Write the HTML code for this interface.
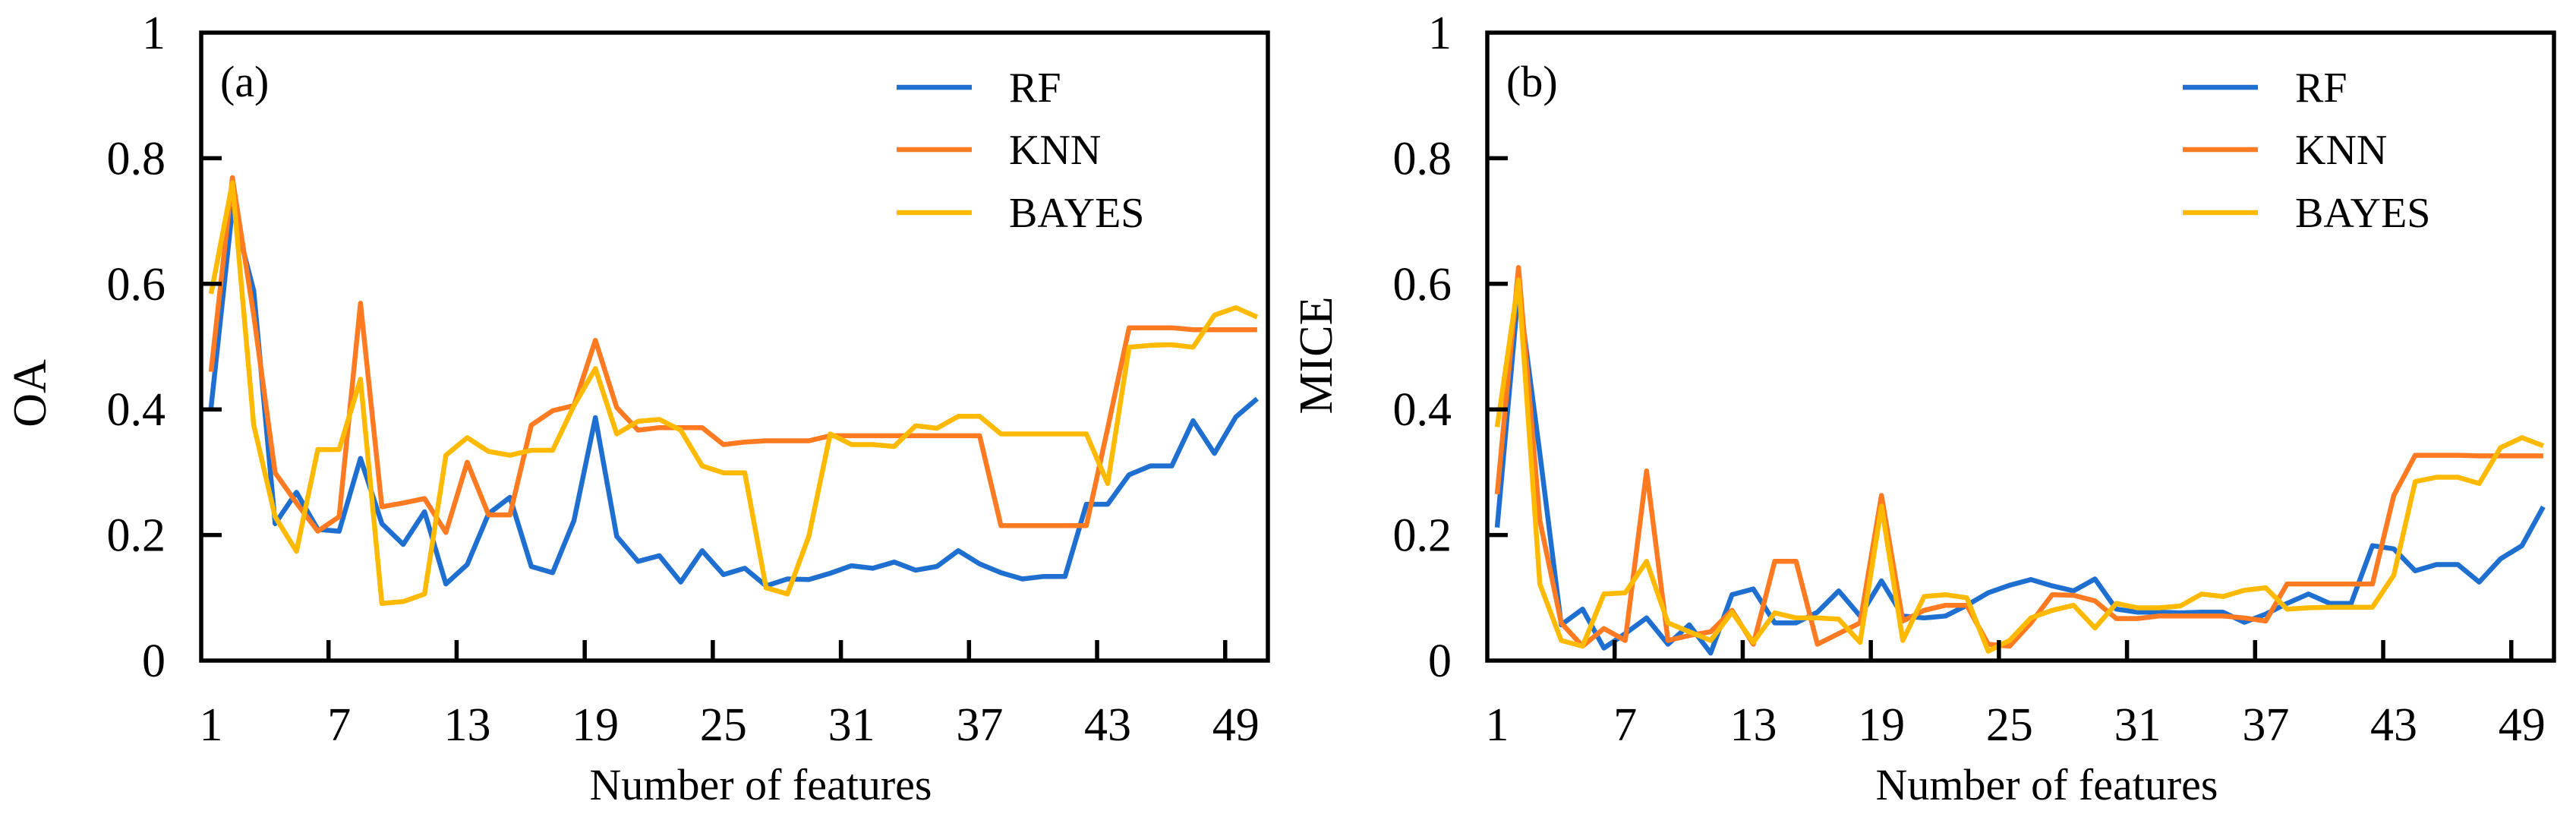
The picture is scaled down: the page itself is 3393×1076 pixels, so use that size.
<!DOCTYPE html>
<html><head><meta charset="utf-8">
<style>
html,body{margin:0;padding:0;background:#fff;}
svg{display:block;font-family:"Liberation Serif",serif;}
</style></head>
<body>
<svg id="chart" width="3393" height="1076" viewBox="0 0 3393 1076" xmlns="http://www.w3.org/2000/svg"></svg>
<script>
const features = Array.from({length:50},(_,i)=>i+1);
const xTickLabels = [1,7,13,19,25,31,37,43,49];
const yTickLabels = [0,0.2,0.4,0.6,0.8,1];
const seriesNames = ["RF","KNN","BAYES"];
const oaRF = [0.403,0.72,0.589,0.218,0.268,0.209,0.206,0.322,0.218,0.185,0.237,0.122,0.153,0.234,0.26,0.15,0.14,0.223,0.387,0.198,0.158,0.167,0.125,0.175,0.137,0.147,0.119,0.13,0.129,0.139,0.151,0.147,0.157,0.144,0.15,0.175,0.154,0.14,0.13,0.134,0.134,0.249,0.249,0.296,0.31,0.31,0.382,0.33,0.388,0.417];
const oaKNN = [0.46,0.769,0.55,0.299,0.251,0.206,0.229,0.569,0.245,0.251,0.258,0.204,0.316,0.232,0.232,0.375,0.398,0.406,0.51,0.403,0.367,0.371,0.371,0.371,0.344,0.348,0.35,0.35,0.35,0.358,0.358,0.358,0.358,0.358,0.358,0.358,0.358,0.215,0.215,0.215,0.215,0.215,0.37,0.53,0.53,0.53,0.527,0.527,0.527,0.527];
const oaBAYES = [0.584,0.761,0.375,0.229,0.174,0.336,0.336,0.448,0.091,0.094,0.106,0.327,0.355,0.333,0.327,0.335,0.335,0.406,0.465,0.361,0.381,0.384,0.367,0.31,0.299,0.299,0.116,0.106,0.198,0.361,0.344,0.344,0.341,0.374,0.37,0.389,0.389,0.361,0.361,0.361,0.361,0.361,0.282,0.499,0.502,0.503,0.499,0.55,0.562,0.547];
const miceRF = [0.212,0.59,0.33,0.057,0.082,0.02,0.043,0.068,0.026,0.057,0.012,0.105,0.114,0.06,0.06,0.077,0.111,0.071,0.127,0.071,0.068,0.071,0.088,0.108,0.12,0.129,0.119,0.111,0.13,0.082,0.077,0.077,0.076,0.077,0.077,0.061,0.074,0.091,0.106,0.091,0.091,0.183,0.178,0.143,0.153,0.153,0.125,0.162,0.183,0.245];
const miceKNN = [0.265,0.626,0.223,0.06,0.023,0.051,0.032,0.302,0.032,0.04,0.046,0.08,0.026,0.158,0.158,0.026,0.043,0.06,0.263,0.063,0.08,0.088,0.088,0.026,0.023,0.06,0.105,0.104,0.095,0.067,0.067,0.071,0.071,0.071,0.071,0.068,0.063,0.122,0.122,0.122,0.122,0.122,0.263,0.327,0.327,0.327,0.326,0.326,0.326,0.326];
const miceBAYES = [0.372,0.606,0.122,0.032,0.023,0.106,0.108,0.158,0.06,0.046,0.032,0.077,0.029,0.076,0.068,0.068,0.066,0.029,0.246,0.032,0.102,0.105,0.1,0.015,0.032,0.068,0.08,0.088,0.052,0.091,0.084,0.084,0.087,0.106,0.102,0.112,0.116,0.082,0.084,0.085,0.085,0.085,0.136,0.285,0.292,0.292,0.282,0.339,0.355,0.342];

const colors = ["#1f6fd1","#ff7a21","#ffba00"];
const NS = "http://www.w3.org/2000/svg";
const svg = document.getElementById("chart");
function mk(tag, attrs, parent){const e=document.createElementNS(NS,tag);for(const k in attrs)e.setAttribute(k,attrs[k]);(parent||svg).appendChild(e);return e;}

function panel(off, label, ytitle, ytitleY, data, pname){
  const g = mk("g",{});
  
  
  const L=265+off, R=1670+off, T=43, B=870;
  const xS = v => 278+off+(v-1)*28.12;
  const yS = v => B - v*(B-T);
  data.forEach((arr,si)=>{
    const pts = arr.map((v,i)=>xS(features[i]).toFixed(1)+","+yS(v).toFixed(1)).join(" ");
    const pl = mk("polyline",{points:pts,fill:"none",stroke:colors[si],"stroke-width":6.5,"stroke-linejoin":"round"},g);
    
    
  });
  const fr = mk("rect",{x:L,y:T,width:R-L,height:B-T,fill:"none",stroke:"#000","stroke-width":5.5},g);
  
  
  yTickLabels.forEach(v=>{
    const y=yS(v);
    if(v>0&&v<1){ const t=mk("line",{x1:L,x2:L+27,y1:y,y2:y,stroke:"#000","stroke-width":5.5},g);
        }
    const tx=mk("text",{x:218+off,y:y+21,"text-anchor":"end","font-size":62,fill:"#000"},g);
    tx.textContent = String(v);
    
    
  });
  xTickLabels.forEach(v=>{
    const x=xS(v);
    if(v>1){ const t=mk("line",{x1:x-14,x2:x-14,y1:B,y2:B-27,stroke:"#000","stroke-width":5.5},g);
        }
    const tx=mk("text",{x:x,y:975,"text-anchor":"middle","font-size":62,fill:"#000"},g);
    tx.textContent = String(v);
    
    
  });
  const xt=mk("text",{x:1002+off,y:1053,"text-anchor":"middle","font-size":58,fill:"#000"},g);
  xt.textContent="Number of features";
  
  
  const cx = 60+off;
  const yt=mk("text",{x:cx,y:ytitleY,"text-anchor":"middle","font-size":62,fill:"#000",transform:`rotate(-90 ${cx} ${ytitleY})`},g);
  yt.textContent=ytitle;
  
  
  const pl=mk("text",{x:290+off,y:127,"font-size":58,fill:"#000"},g);
  pl.textContent=label;
  
  
  const ly=[115,197,280];
  seriesNames.forEach((n,si)=>{
    const ln=mk("line",{x1:1181+off,x2:1280+off,y1:ly[si],y2:ly[si],stroke:colors[si],"stroke-width":6.5},g);
    
    
    const t=mk("text",{x:1329+off,y:ly[si]+19,"font-size":56,fill:"#000"},g);
    t.textContent=n;
    
    
  });
}
panel(0,"(a)","OA",518,[oaRF,oaKNN,oaBAYES],"oa-panel");
panel(1694,"(b)","MICE",468,[miceRF,miceKNN,miceBAYES],"mice-panel");
</script>
</body></html>
